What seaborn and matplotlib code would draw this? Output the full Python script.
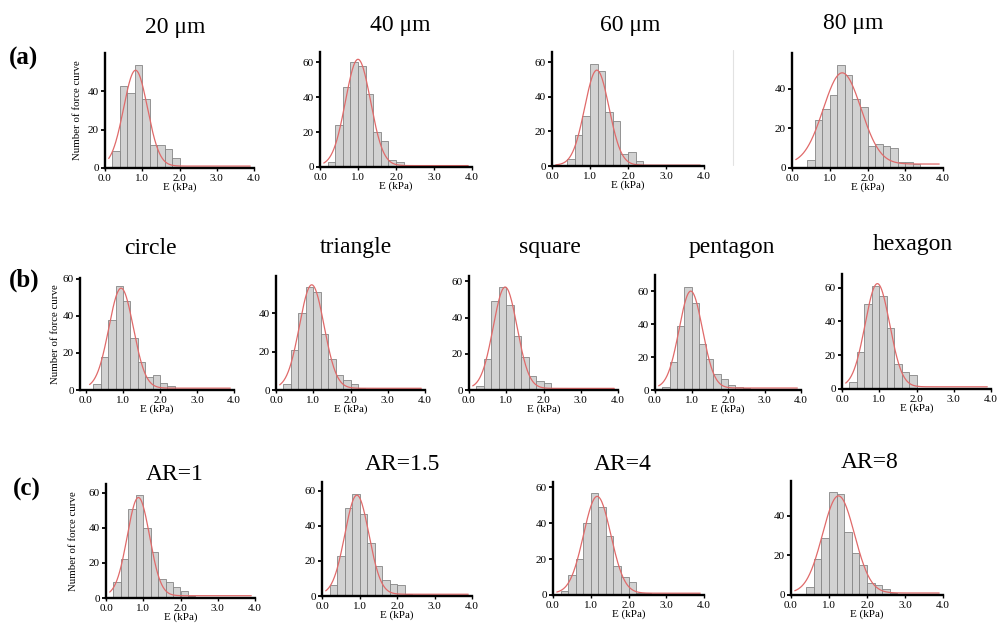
import numpy as np
import pandas as pd
import matplotlib
matplotlib.use("Agg")
import matplotlib.pyplot as plt
from matplotlib.lines import Line2D
import seaborn as sns

# ---------------- data ----------------
BIN_WIDTH = 0.2
X_TICKS = [0.0, 1.0, 2.0, 3.0, 4.0]
X_TICK_LABELS = ["0.0", "1.0", "2.0", "3.0", "4.0"]
ROW_LABELS = ["(a)", "(b)", "(c)"]
Y_LABEL = "Number of force curve"
X_LABEL = "E (kPa)"

titles_a = ["20 μm", "40 μm", "60 μm", "80 μm"]
titles_b = ["circle", "triangle", "square", "pentagon", "hexagon"]
titles_c = ["AR=1", "AR=1.5", "AR=4", "AR=8"]

# first bin left edge of every panel (kPa)
start_a = [0.2, 0.2, 0.4, 0.4]
start_b = [0.2, 0.2, 0.2, 0.2, 0.2]
start_c = [0.2, 0.2, 0.2, 0.4]

# bin counts
counts_20um = [9, 43, 39, 54, 36, 12, 12, 10, 5]
counts_40um = [3, 24, 46, 60, 58, 42, 20, 15, 4, 3, 1]
counts_60um = [4, 18, 29, 59, 55, 31, 26, 7, 8, 3]
counts_80um = [4, 24, 30, 37, 52, 47, 35, 31, 11, 12, 11, 10, 3, 3, 2]
counts_circle = [3, 18, 38, 56, 48, 28, 15, 7, 8, 4, 2]
counts_triangle = [3, 21, 40, 54, 51, 29, 16, 8, 5, 3, 1]
counts_square = [2, 17, 49, 57, 47, 30, 18, 8, 5, 4]
counts_pentagon = [2, 17, 39, 63, 53, 28, 19, 10, 7, 3, 2, 1]
counts_hexagon = [4, 22, 50, 61, 55, 36, 15, 10, 8]
counts_ar1 = [9, 22, 51, 59, 40, 26, 11, 9, 6, 4, 1]
counts_ar15 = [6, 23, 50, 58, 47, 30, 17, 9, 7, 6, 1]
counts_ar4 = [2, 11, 20, 40, 57, 49, 33, 16, 10, 7, 1, 1]
counts_ar8 = [4, 18, 29, 52, 51, 32, 21, 15, 6, 5, 3, 1]

counts_a = [counts_20um, counts_40um, counts_60um, counts_80um]
counts_b = [counts_circle, counts_triangle, counts_square, counts_pentagon, counts_hexagon]
counts_c = [counts_ar1, counts_ar15, counts_ar4, counts_ar8]

# Gaussian fit: centre, width, height, baseline
fit_mu_a = [0.82, 1.0, 1.18, 1.33]
fit_sigma_a = [0.32, 0.33, 0.32, 0.50]
fit_amp_a = [50, 61, 55, 46]
fit_base_a = [1.0, 0.8, 0.5, 2.0]

fit_mu_b = [0.95, 0.96, 0.97, 0.98, 0.95]
fit_sigma_b = [0.33, 0.33, 0.32, 0.32, 0.33]
fit_amp_b = [54, 54, 56, 59, 61]
fit_base_b = [1.0, 0.9, 0.9, 1.2, 1.3]

fit_mu_c = [0.87, 0.93, 1.17, 1.25]
fit_sigma_c = [0.30, 0.32, 0.36, 0.42]
fit_amp_c = [56, 56.5, 54, 49]
fit_base_c = [1.3, 1.0, 1.0, 1.0]

FIT_X_START = 0.1
FIT_X_END = 3.9

# ---------------- layout (pixels in a 998x626 canvas) ----------------
W, H = 998, 626
# left spine, x=4.0 position, top, bottom, x-min, y-max, y ticks
layout_a = [
    (105, 254, 53, 168, 0.0, 60, [0, 20, 40]),
    (320, 472, 52, 167, 0.0, 66, [0, 20, 40, 60]),
    (552, 704, 52, 166, 0.0, 66, [0, 20, 40, 60]),
    (792, 943, 53, 168, 0.0, 58, [0, 20, 40]),
]
layout_b = [
    (80, 234, 278, 390, -0.16, 60.5, [0, 20, 40, 60]),
    (276, 425, 276, 390, 0.0, 59.5, [0, 20, 40]),
    (469, 618, 276, 390, 0.0, 63, [0, 20, 40, 60]),
    (655, 801, 275, 390, 0.0, 70, [0, 20, 40, 60]),
    (842, 991, 274, 389, 0.0, 68, [0, 20, 40, 60]),
]
layout_c = [
    (106, 255, 484, 598, 0.0, 65, [0, 20, 40, 60]),
    (322, 472, 482, 596, 0.0, 65, [0, 20, 40, 60]),
    (553, 704, 482, 595, 0.0, 63, [0, 20, 40, 60]),
    (791, 943, 481, 595, 0.0, 57.5, [0, 20, 40]),
]
title_pos_a = [(175, 27), (400, 25), (630, 25), (853, 23)]
title_pos_b = [(150, 248), (356, 247), (550, 247), (732, 247), (913, 245)]
title_pos_c = [(175, 475), (402, 465), (623, 465), (870, 463)]
row_label_pos = [(24, 58), (24, 280), (27, 489)]
ylabel_x = [77, 55, 73]

BAR_FACE = "#d2d2d2"
BAR_EDGE = "#858585"
CURVE_COLOR = "#e06a6a"

sns.set_style("white")
plt.rcParams["font.family"] = ["Liberation Serif", "DejaVu Serif"]
plt.rcParams["text.color"] = "black"
plt.rcParams["axes.labelcolor"] = "black"
plt.rcParams["xtick.color"] = "black"
plt.rcParams["ytick.color"] = "black"

fig = plt.figure(figsize=(W / 100, H / 100), dpi=100)
fig.patch.set_facecolor("white")


def draw_panel(lay, start, counts, mu, sigma, amp, base, title, tpos):
    L, R, T, B, xmin, ymax, yticks = lay
    ax = fig.add_axes([L / W, 1 - B / H, (R - L) / W, (B - T) / H])
    n = len(counts)
    centers = start + BIN_WIDTH * (np.arange(n) + 0.5)
    df = pd.DataFrame({"E": centers, "n": np.asarray(counts, dtype=float)})
    sns.histplot(data=df, x="E", weights="n", binwidth=BIN_WIDTH,
                 binrange=(start, start + BIN_WIDTH * n), ax=ax,
                 color=BAR_FACE, edgecolor=BAR_EDGE, linewidth=0.6,
                 alpha=1.0, zorder=2)
    xs = np.linspace(FIT_X_START, FIT_X_END, 300)
    ys = base + amp * np.exp(-(xs - mu) ** 2 / (2 * sigma ** 2))
    sns.lineplot(x=xs, y=ys, ax=ax, color=CURVE_COLOR, linewidth=0.9, zorder=3)
    ax.set_xlim(xmin, 4.0)
    ax.set_ylim(0, ymax)
    ax.set_xticks(X_TICKS)
    ax.set_xticklabels(X_TICK_LABELS)
    ax.set_yticks(yticks)
    ax.set_yticklabels([str(v) for v in yticks])
    for s in ["top", "right"]:
        ax.spines[s].set_visible(False)
    for s in ["left", "bottom"]:
        ax.spines[s].set_color("black")
        ax.spines[s].set_linewidth(1.7)
        ax.spines[s].set_zorder(4)
    ax.tick_params(axis="y", length=3, width=1.3, direction="out", pad=1.5,
                   labelsize=8, colors="black", left=True)
    ax.tick_params(axis="x", length=2, width=1.0, direction="out", pad=2.2,
                   labelsize=8, colors="black", bottom=True)
    ax.set_xlabel(X_LABEL, fontsize=8, labelpad=0)
    ax.set_ylabel("")
    ax.set_facecolor("none")
    ax.grid(False)
    fig.text(tpos[0] / W, 1 - tpos[1] / H, title, fontsize=17,
             ha="center", va="center")
    return ax


rows = [
    (layout_a, start_a, counts_a, fit_mu_a, fit_sigma_a, fit_amp_a, fit_base_a, titles_a, title_pos_a),
    (layout_b, start_b, counts_b, fit_mu_b, fit_sigma_b, fit_amp_b, fit_base_b, titles_b, title_pos_b),
    (layout_c, start_c, counts_c, fit_mu_c, fit_sigma_c, fit_amp_c, fit_base_c, titles_c, title_pos_c),
]

for r, (lays, starts, cnts, mus, sigs, amps, bases, tits, tposs) in enumerate(rows):
    for i in range(len(lays)):
        draw_panel(lays[i], starts[i], cnts[i], mus[i], sigs[i], amps[i],
                   bases[i], tits[i], tposs[i])
    L, R, T, B = lays[0][:4]
    fig.text(ylabel_x[r] / W, 1 - ((T + B) / 2) / H, Y_LABEL, fontsize=7.8,
             rotation=90, ha="center", va="center")
    fig.text(row_label_pos[r][0] / W, 1 - row_label_pos[r][1] / H, ROW_LABELS[r],
             fontsize=18, fontweight="bold", ha="center", va="center")

# faint scan line left of the 80 um panel
fig.add_artist(Line2D([733 / W, 733 / W], [1 - 50 / H, 1 - 165 / H],
                      color="#e2e2e2", linewidth=0.8))

fig.savefig("out.png", dpi=100, facecolor="white")
